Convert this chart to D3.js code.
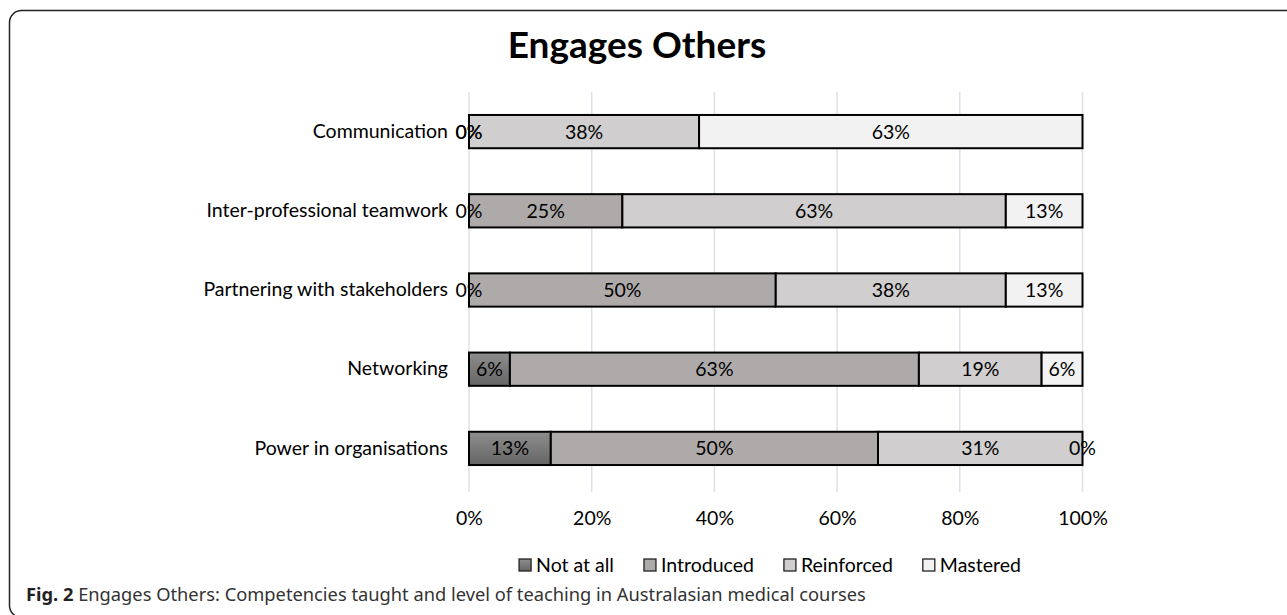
<!DOCTYPE html>
<html>
<head>
<meta charset="utf-8">
<script src="https://cdn.jsdelivr.net/npm/d3@7"></script>
<style>
  body { margin: 0; background: #fff; }
  svg { display: block; }
</style>
</head>
<body>
<div id="chart"></div>
<script>
// categories, top to bottom
let categories = ["Communication", "Inter-professional teamwork", "Partnering with stakeholders", "Networking", "Power in organisations"];
let levels = ["Not at all", "Introduced", "Reinforced", "Mastered"];

// percent of courses, as shown by the labels
let notAtAll   = [0, 0, 0, 6.25, 12.5];
let introduced = [0, 25, 50, 62.5, 50];
let reinforced = [37.5, 62.5, 37.5, 18.75, 31.25];
let mastered   = [62.5, 12.5, 12.5, 6.25, 0];

let xTicks = [0, 0.2, 0.4, 0.6, 0.8, 1];

let width = 1287, height = 615;
let plot = {left: 469, right: 1082.5, top: 92, bottom: 488};
let fills = ["url(#gNot)", "#aeaaaa", "#d0cece", "#f2f2f2"];
let font = "Lato, 'Open Sans', sans-serif";

// rows for d3.stack
let rows = categories.map((c, i) => ({
  name: c,
  "Not at all": notAtAll[i],
  "Introduced": introduced[i],
  "Reinforced": reinforced[i],
  "Mastered": mastered[i]
}));

// 100% stacked (Excel normalises each bar)
let series = d3.stack().keys(levels).offset(d3.stackOffsetExpand)(rows);

const svg = d3.select("#chart").append("svg")
    .attr("width", width)
    .attr("height", height)
    .style("font-family", font);

const defs = svg.append("defs");
const grad = defs.append("linearGradient")
    .attr("id", "gNot")
    .attr("x1", 0).attr("y1", 0).attr("x2", 0).attr("y2", 1);
grad.append("stop").attr("offset", "0%").attr("stop-color", "#8e8e8e");
grad.append("stop").attr("offset", "100%").attr("stop-color", "#656565");

// frame (bottom edge falls just off the page)
svg.append("rect")
    .attr("x", 9.5).attr("y", 10.5)
    .attr("width", 1330).attr("height", 607)
    .attr("rx", 12)
    .attr("fill", "none")
    .attr("stroke", "#222")
    .attr("stroke-width", 1.5);

const x = d3.scaleLinear().domain([0, 1]).range([plot.left, plot.right]);
const y = d3.scaleBand().domain(categories).range([plot.top, plot.bottom])
    .paddingInner(0.58).paddingOuter(0.29);

// gridlines
svg.append("g")
  .selectAll("line")
  .data(xTicks)
  .join("line")
    .attr("x1", d => x(d)).attr("x2", d => x(d))
    .attr("y1", plot.top).attr("y2", plot.bottom + 4)
    .attr("stroke", "#dce1e9")
    .attr("stroke-width", 1.5);

// title
svg.append("text")
    .attr("x", 637).attr("y", 58)
    .attr("text-anchor", "middle")
    .style("font-size", "37px")
    .style("font-weight", "bold")
    .attr("fill", "#000")
    .text("Engages Others");

// bars
const layer = svg.append("g")
  .selectAll("g")
  .data(series)
  .join("g")
    .attr("fill", (d, i) => fills[i]);

layer.selectAll("rect")
  .data(d => d)
  .join("rect")
    .attr("x", d => x(d[0]))
    .attr("y", d => y(d.data.name))
    .attr("width", d => x(d[1]) - x(d[0]))
    .attr("height", y.bandwidth())
    .attr("stroke", "#000")
    .attr("stroke-width", 2);

// data labels
const labels = svg.append("g")
    .style("font-size", "19.5px")
    .attr("fill", "#000")
    .attr("text-anchor", "middle");

series.forEach(s => {
  s.forEach(d => {
    labels.append("text")
        .attr("x", (x(d[0]) + x(d[1])) / 2)
        .attr("y", y(d.data.name) + y.bandwidth() / 2)
        .attr("dy", "0.36em")
        .text(d3.format(".0f")(d.data[s.key]) + "%");
  });
});

// category labels
const yAxis = svg.append("g")
    .attr("transform", `translate(${plot.left},0)`)
    .call(d3.axisLeft(y).tickSize(0).tickPadding(21));
yAxis.select(".domain").remove();
yAxis.selectAll("text")
    .style("font-family", font)
    .style("font-size", "19.5px")
    .attr("fill", "#000");

// x axis labels
const xAxis = svg.append("g")
    .attr("transform", `translate(0,${plot.bottom})`)
    .call(d3.axisBottom(x).tickValues(xTicks).tickFormat(d3.format(".0%")).tickSize(0).tickPadding(23));
xAxis.select(".domain").remove();
xAxis.selectAll("text")
    .style("font-family", font)
    .style("font-size", "19.5px")
    .attr("fill", "#000");

// legend, laid out left to right and centred under the plot
const legend = svg.append("g")
  .selectAll("g")
  .data(levels)
  .join("g");

legend.append("rect")
    .attr("x", 0).attr("y", -6)
    .attr("width", 12).attr("height", 12)
    .attr("fill", (d, i) => fills[i])
    .attr("stroke", "#222")
    .attr("stroke-width", 1.3);

legend.append("text")
    .attr("x", 17)
    .attr("dy", "0.36em")
    .style("font-size", "19.5px")
    .attr("fill", "#000")
    .text(d => d);

let itemW = [];
legend.each(function() { itemW.push(this.getBBox().width); });
let gap = 30;
let total = d3.sum(itemW) + gap * (itemW.length - 1);
let lx = 770 - total / 2;
legend.attr("transform", (d, i) => {
  let t = `translate(${lx},565)`;
  lx += itemW[i] + gap;
  return t;
});

// caption
const cap = svg.append("text")
    .attr("x", 26).attr("y", 601)
    .style("font-family", "'Noto Sans', 'Open Sans', sans-serif")
    .style("font-size", "18.3px")
    .attr("fill", "#333");
cap.append("tspan").style("font-weight", "bold").attr("fill", "#222").text("Fig. 2");
cap.append("tspan").text(" Engages Others: Competencies taught and level of teaching in Australasian medical courses");
</script>
</body>
</html>
